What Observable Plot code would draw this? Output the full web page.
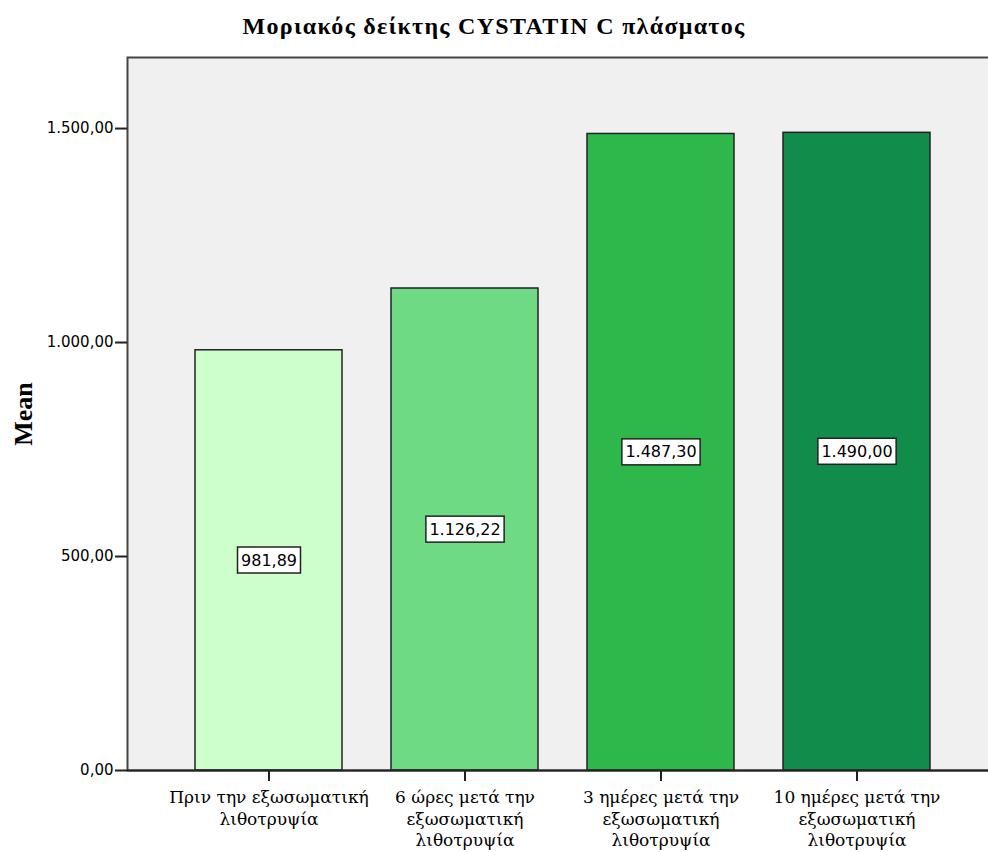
<!DOCTYPE html>
<html>
<head>
<meta charset="utf-8">
<script src="https://cdn.jsdelivr.net/npm/d3@7"></script>
<script src="https://cdn.jsdelivr.net/npm/@observablehq/plot@0.6"></script>
<style>
  html, body { margin: 0; padding: 0; background: #fff; }
  body { width: 988px; height: 852px; overflow: hidden; }
  #title { height: 50px; box-sizing: border-box; padding-top: 13px; text-align: center;
           font: bold 24px "Liberation Serif", serif; letter-spacing: 1.3px; color: #000; width: 988px; white-space: nowrap; }
  #chart svg { display: block; overflow: visible; max-width: none !important; }
</style>
</head>
<body>
<div id="title">Μοριακός δείκτης CYSTATIN C πλάσματος</div>
<div id="chart"></div>
<script>
const categories = [
  "Πριν την εξωσωματική\nλιθοτρυψία",
  "6 ώρες μετά την\nεξωσωματική\nλιθοτρυψία",
  "3 ημέρες μετά την\nεξωσωματική\nλιθοτρυψία",
  "10 ημέρες μετά την\nεξωσωματική\nλιθοτρυψία"
];
const means = [981.89, 1126.22, 1487.30, 1490.00];
const barColors = ["#ccffcc", "#6fda84", "#2eb84b", "#128c4a"];
const yTicks = [0, 500, 1000, 1500];

const data = categories.map((c, i) => ({cat: c, value: means[i]}));
const fmt = d3.formatLocale({decimal: ",", thousands: ".", grouping: [3], currency: ["", ""]}).format(",.2f");

const chart = Plot.plot({
  width: 998,
  height: 802,
  marginTop: 7,
  marginBottom: 82,
  marginLeft: 127,
  marginRight: 0,
  style: {fontFamily: "DejaVu Sans", fontSize: "15px", color: "#000", background: "transparent"},
  x: {domain: categories, paddingInner: 0.25, paddingOuter: 0.34, label: null},
  y: {domain: [0, 1666], label: null},
  color: {domain: categories, range: barColors},
  marks: [
    Plot.frame({fill: "#f0f0f0", stroke: null}),
    Plot.barY(data, {x: "cat", y: "value", fill: "cat", stroke: "#222", strokeWidth: 1.5}),
    Plot.frame({stroke: "#444", strokeWidth: 2, fill: "none"}),
    Plot.ruleY([0], {stroke: "#222", strokeWidth: 2}),
    Plot.axisY({ticks: yTicks, tickFormat: fmt, tickSize: 12, tickPadding: 2, stroke: "#222", strokeWidth: 2,
                fontSize: 15, fontFamily: "DejaVu Sans", label: null}),
    Plot.axisX({tickSize: 11, tickPadding: 7, stroke: "#222", strokeWidth: 2, fontSize: 17,
                fontFamily: "DejaVu Serif", lineHeight: 1.24, label: null}),
    Plot.text(["Mean"], {frameAnchor: "left", textAnchor: "middle", dx: -104, rotate: -90, text: d => d,
                fontWeight: "bold", fontFamily: "Liberation Serif", fontSize: 26}),
    Plot.text(data, {x: "cat", y: d => d.value / 2, text: d => fmt(d.value), fontSize: 16,
                fontFamily: "DejaVu Sans", fill: "#000", className: "value-label"})
  ]
});
document.getElementById("chart").appendChild(chart);

// white boxed labels behind the value texts
const ns = "http://www.w3.org/2000/svg";
let texts = chart.querySelectorAll('.value-label text');
if (!texts.length) {
  const groups = chart.querySelectorAll('g[aria-label="text"]');
  texts = groups[groups.length - 1].querySelectorAll("text");
}
texts.forEach(t => {
  const b = t.getBBox();
  const tr = t.getAttribute("transform");
  const r = document.createElementNS(ns, "rect");
  r.setAttribute("x", b.x - 3.5);
  r.setAttribute("y", b.y - 3.5);
  r.setAttribute("width", b.width + 7);
  r.setAttribute("height", b.height + 7);
  r.setAttribute("fill", "#fff");
  r.setAttribute("stroke", "#222");
  r.setAttribute("stroke-width", 1.5);
  if (tr) r.setAttribute("transform", tr);
  t.parentNode.insertBefore(r, t);
});
</script>
</body>
</html>
